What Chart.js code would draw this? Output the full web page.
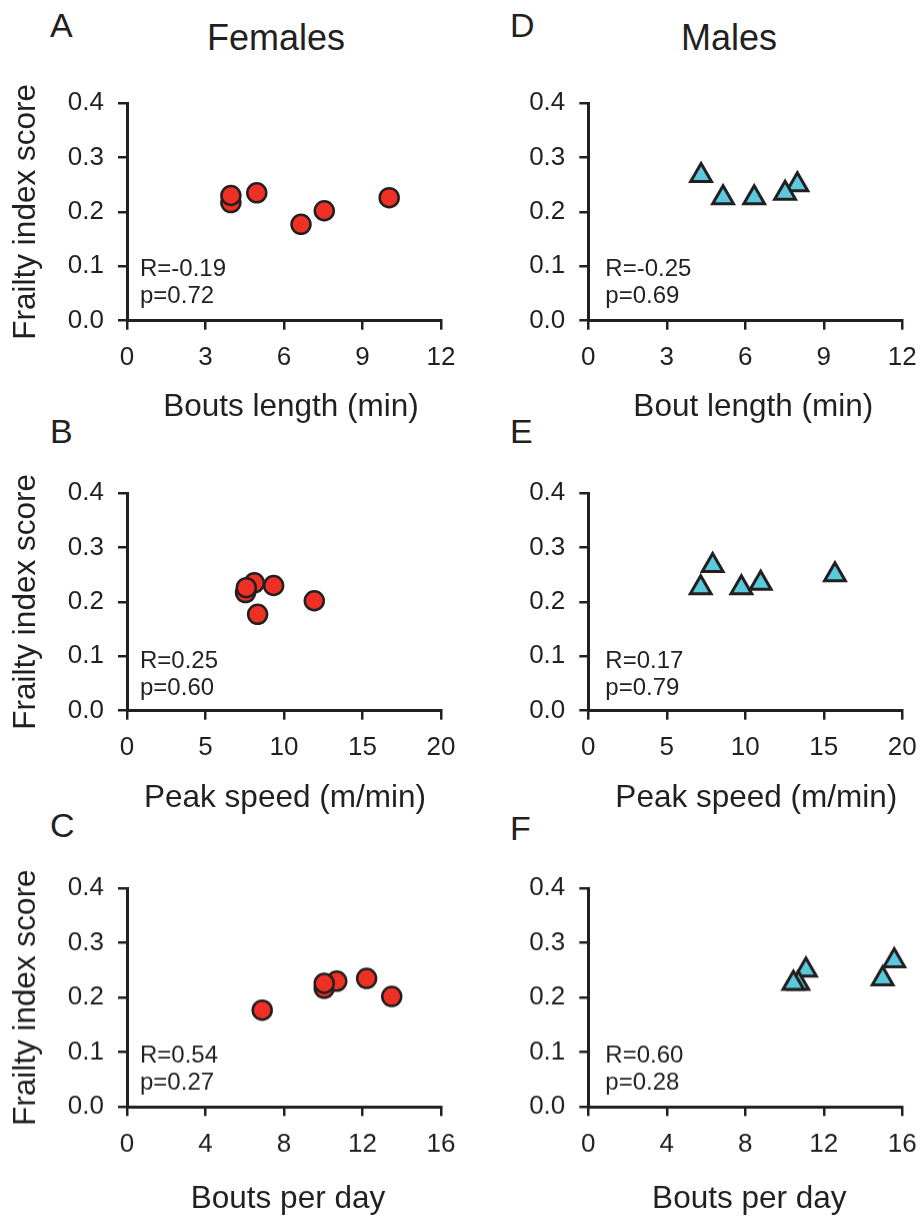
<!DOCTYPE html>
<html>
<head>
<meta charset="utf-8">
<script src="https://cdn.jsdelivr.net/npm/chart.js@4.4.1/dist/chart.umd.min.js"></script>
<style>
  html, body { margin: 0; padding: 0; background: #fff; }
  #wrap { position: relative; width: 922px; height: 1217px; overflow: hidden; font-family: "Liberation Sans", Arial, sans-serif; color: #231f20; }
  canvas { position: absolute; }
  .lbl { position: absolute; font-size: 34px; line-height: 34px; white-space: nowrap; }
  .head { position: absolute; font-size: 36px; line-height: 36px; width: 220px; text-align: center; }
</style>
</head>
<body>
<div id="wrap">
  <div class="lbl" style="left:50px;top:8px">A</div>
  <div class="lbl" style="left:50px;top:414px">B</div>
  <div class="lbl" style="left:50px;top:808px">C</div>
  <div class="lbl" style="left:510px;top:8px">D</div>
  <div class="lbl" style="left:510px;top:414px">E</div>
  <div class="lbl" style="left:510px;top:811px">F</div>
  <div class="head" style="left:166px;top:20px">Females</div>
  <div class="head" style="left:619px;top:20px">Males</div>
</div>
<script>
// Frailty index vs. activity measures (females: circles, males: triangles)

const femaleFI = [0.217, 0.230, 0.235, 0.177, 0.202, 0.226];
const femaleBoutLength = [3.97, 3.97, 4.96, 6.65, 7.54, 10.02];
const femalePeakSpeed = [7.55, 9.34, 8.11, 8.32, 11.93, 7.6];
const femaleBoutsPerDay = [10.05, 10.69, 12.21, 6.89, 13.49, 10.05];

const maleFI = [0.267, 0.250, 0.226, 0.226, 0.234];
const maleBoutLength = [4.31, 7.99, 6.34, 5.15, 7.52];
const malePeakSpeed = [7.92, 15.71, 9.75, 7.16, 10.98];
const maleBoutsPerDay = [15.59, 11.09, 10.7, 10.45, 15.0];

const yTicks = [0, 0.1, 0.2, 0.3, 0.4];
const boutLengthTicks = [0, 3, 6, 9, 12];
const peakSpeedTicks = [0, 5, 10, 15, 20];
const boutsPerDayTicks = [0, 4, 8, 12, 16];

const xTitles = ['Bouts length (min)', 'Peak speed (m/min)', 'Bouts per day'];
const xTitlesMale = ['Bout length (min)', 'Peak speed (m/min)', 'Bouts per day'];
const femaleStats = [['R=-0.19', 'p=0.72'], ['R=0.25', 'p=0.60'], ['R=0.54', 'p=0.27']];
const maleStats = [['R=-0.25', 'p=0.69'], ['R=0.17', 'p=0.79'], ['R=0.60', 'p=0.28']];

const INK = '#231f20';
const RED = '#ee3124';
const CYAN = '#5bc8dc';
const FONT = '"Liberation Sans", Arial, sans-serif';
const TITLE_SIZE = 31.5;
const TICK_SIZE = 26;

// layout of the plot areas (pixels on the page)
const rows = [
    { top: 102.7, bottom: 320.7, titleY: 407, statDy: [-45, -18] },
    { top: 492.7, bottom: 710.7, titleY: 798, statDy: [-43, -16] },
    { top: 888.3, bottom: 1107.3, titleY: 1199, statDy: [-44, -17] }
];
const cols = [
    { x0: 0, left: 127, right: 441, statDx: 13, titleDx: [7, 1, 4] },
    { x0: 461, left: 588.3, right: 902.3, statDx: 17, titleDx: [8, 11, 4] }
];

// R / p annotation and the x-axis title
const textPlugin = {
    id: 'panelText',
    afterDraw(chart) {
        const o = chart.options.plugins.panelText;
        const ctx = chart.ctx;
        const a = chart.chartArea;
        ctx.save();
        ctx.fillStyle = INK;
        ctx.font = '24px ' + FONT;
        ctx.textAlign = 'left';
        ctx.textBaseline = 'alphabetic';
        ctx.fillText(o.lines[0], a.left + o.dx, a.bottom + o.dy[0]);
        ctx.fillText(o.lines[1], a.left + o.dx, a.bottom + o.dy[1]);

        ctx.font = TITLE_SIZE + 'px ' + FONT;
        ctx.textAlign = 'center';
        ctx.textBaseline = 'middle';
        ctx.fillText(o.title, (a.left + a.right) / 2 + o.titleDx, o.titleY);
        ctx.restore();
    }
};

function makePanel(colIdx, rowIdx, xs, ys, xTicks, xTitle, stats, male) {
    const col = cols[colIdx];
    const row = rows[rowIdx];
    const canvasTop = row.top - 25;
    const canvasBottom = row.titleY + 22;
    const w = 461;
    const h = canvasBottom - canvasTop;

    const canvas = document.createElement('canvas');
    canvas.style.left = col.x0 + 'px';
    canvas.style.top = canvasTop + 'px';
    canvas.style.width = w + 'px';
    canvas.style.height = h + 'px';
    canvas.width = w;
    canvas.height = h;
    document.getElementById('wrap').appendChild(canvas);

    const points = xs.map((x, i) => ({ x: x, y: ys[i] }));
    const xMax = xTicks[xTicks.length - 1];

    return new Chart(canvas.getContext('2d'), {
        type: 'scatter',
        data: {
            datasets: [{
                data: points,
                pointStyle: male ? 'triangle' : 'circle',
                pointRadius: male ? 12 : 9.5,
                pointHoverRadius: male ? 12 : 9.5,
                backgroundColor: male ? CYAN : RED,
                borderColor: INK,
                borderWidth: male ? 3 : 2.5,
                pointBorderWidth: male ? 3 : 2.5,
                clip: false
            }]
        },
        options: {
            responsive: false,
            animation: false,
            devicePixelRatio: 1,
            events: [],
            layout: {
                autoPadding: false,
                padding: { left: 0, top: 25, right: col.x0 + w - col.right, bottom: 0 }
            },
            plugins: {
                legend: { display: false },
                tooltip: { enabled: false },
                panelText: {
                    lines: stats, dx: col.statDx, dy: row.statDy,
                    title: xTitle, titleDx: col.titleDx[rowIdx], titleY: row.titleY - canvasTop
                }
            },
            scales: {
                x: {
                    type: 'linear',
                    min: 0,
                    max: xMax,
                    afterBuildTicks: s => { s.ticks = xTicks.map(v => ({ value: v })); },
                    afterFit: s => {
                        s.height = canvasBottom - row.bottom;
                        s.paddingLeft = 0;
                        s.paddingRight = 0;
                    },
                    grid: { drawOnChartArea: false, drawTicks: true, tickLength: 9, color: INK, lineWidth: 2.5 },
                    border: { display: true, color: INK, width: 3 },
                    ticks: { color: INK, padding: 13, maxRotation: 0, font: { family: FONT, size: TICK_SIZE } }
                },
                y: {
                    type: 'linear',
                    min: 0,
                    max: 0.4,
                    afterBuildTicks: s => { s.ticks = yTicks.map(v => ({ value: v })); },
                    afterFit: s => {
                        s.width = col.left - col.x0;
                        s.paddingTop = 0;
                        s.paddingBottom = 0;
                    },
                    grid: { drawOnChartArea: false, drawTicks: true, tickLength: 9, color: INK, lineWidth: 2.5 },
                    border: { display: true, color: INK, width: 3 },
                    ticks: {
                        color: INK,
                        padding: 14,
                        font: { family: FONT, size: TICK_SIZE },
                        callback: v => v.toFixed(1)
                    },
                    title: {
                        display: colIdx === 0,
                        text: 'Frailty index score',
                        color: INK,
                        font: { family: FONT, size: TITLE_SIZE },
                        padding: { top: 7, bottom: 0 }
                    }
                }
            }
        },
        plugins: [textPlugin]
    });
}

makePanel(0, 0, femaleBoutLength, femaleFI, boutLengthTicks, xTitles[0], femaleStats[0], false);
makePanel(0, 1, femalePeakSpeed, femaleFI, peakSpeedTicks, xTitles[1], femaleStats[1], false);
makePanel(0, 2, femaleBoutsPerDay, femaleFI, boutsPerDayTicks, xTitles[2], femaleStats[2], false);
makePanel(1, 0, maleBoutLength, maleFI, boutLengthTicks, xTitlesMale[0], maleStats[0], true);
makePanel(1, 1, malePeakSpeed, maleFI, peakSpeedTicks, xTitlesMale[1], maleStats[1], true);
makePanel(1, 2, maleBoutsPerDay, maleFI, boutsPerDayTicks, xTitlesMale[2], maleStats[2], true);
</script>
</body>
</html>
